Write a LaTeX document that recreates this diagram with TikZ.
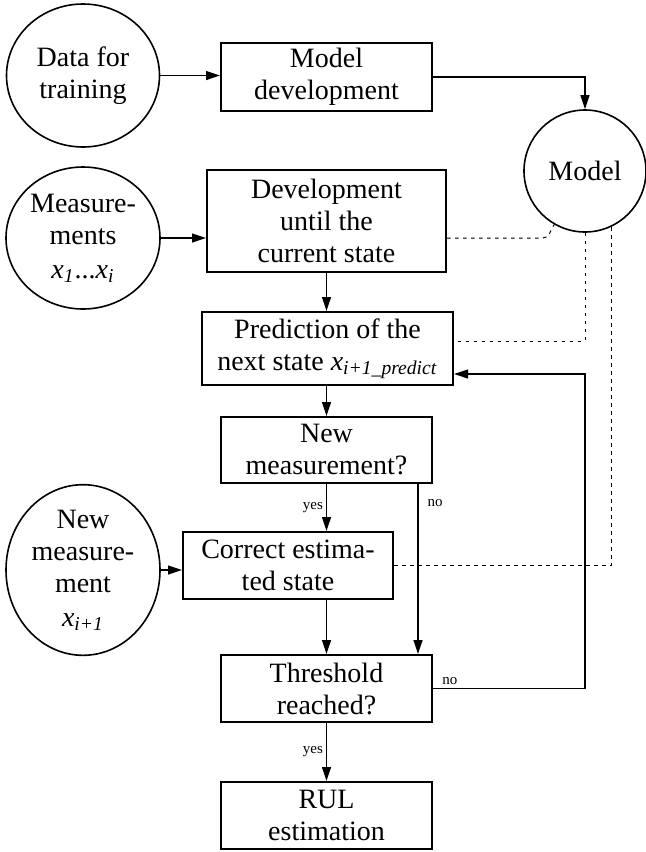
\documentclass[tikz,border=0pt]{standalone}
\usepackage{fontspec}
\setmainfont{Liberation Serif}
\usetikzlibrary{arrows.meta,shapes.geometric}
\tikzset{
  box/.style={draw,line width=1pt,rectangle,inner sep=0pt,align=center,font=\fontsize{14}{16}\selectfont},
  circ/.style={draw,line width=0.8pt,ellipse,inner sep=0pt,align=center,font=\fontsize{14}{16}\selectfont},
  arr/.style={line width=0.6pt,-{Triangle[length=7pt,width=4.5pt]}},
  dotl/.style={line width=0.5pt,dash pattern=on 1.8pt off 2.2pt},
  lbl/.style={font=\fontsize{7.5}{9}\selectfont,inner sep=1.5pt}
}
\newcommand{\xv}{\textit{x}}
\begin{document}
\begin{tikzpicture}[x=0.5pt,y=-0.5pt]
\useasboundingbox (0,0) rectangle (645,852);
% nodes
\node[circ,minimum width=76.5pt,minimum height=71.5pt] (data) at (83,75.5) {Data for\\training};
\node[box,minimum width=105.5pt,minimum height=34pt] (mdev) at (326.5,77) {Model\\development};
\node[circ,circle,minimum size=61pt] (model) at (585,171) {Model};
\node[circ,minimum width=77pt,minimum height=71pt] (meas) at (83,238) {Measure-\\ments\\[1pt]\xv\textsubscript{\textit{1}}...\xv\textsubscript{\textit{i}}};
\node[box,minimum width=119.5pt,minimum height=51pt] (dev) at (326.5,221) {Development\\until the\\current state};
\node[box,minimum width=125.5pt,minimum height=36.5pt] (pred) at (327.5,348.5) {Prediction of the\\next state \xv\textsubscript{\textit{i+1\_predict}}};
\node[box,minimum width=105.5pt,minimum height=33pt] (nm) at (326.5,450) {New\\measurement?};
\node[circ,minimum width=77pt,minimum height=71pt] (newm) at (83,570) {New\\measure-\\ment\\[1pt]\xv\textsubscript{\textit{i+1}}};
\node[box,minimum width=105pt,minimum height=33.5pt] (corr) at (288,565.5) {Correct estima-\\ted state};
\node[box,minimum width=105.5pt,minimum height=33.5pt] (thr) at (326.5,688.5) {Threshold\\reached?};
\node[box,minimum width=105.5pt,minimum height=33.5pt] (rul) at (326.5,815.5) {RUL\\estimation};
\coordinate (bend) at (543,238);
\coordinate (fbin) at ([yshift=6pt]pred.south east);
\coordinate (dvout) at ([yshift=-8.5pt]dev.east);
\coordinate (prin) at ([yshift=3.75pt]pred.east);
\coordinate (nmno) at ([xshift=-7.5pt]nm.south east);
\coordinate (thrno) at ([xshift=-7.5pt]thr.north east);
% connectors
\draw[arr] (data.east) -- (data.east -| mdev.west);
\draw[arr] (mdev.east) -- (mdev.east -| model.north) -- (model.north);
\draw[arr] (meas.east) -- (meas.east -| dev.west);
\draw[arr] (dev.south) -- (dev.south |- pred.north);
\draw[arr] (pred.south -| nm.north) -- (nm.north);
\draw[arr] (nm.south) -- (nm.south |- corr.north) node[lbl,midway,left] {yes};
\draw[arr] (nmno) -- (thrno) node[lbl,pos=0.11,right,xshift=3pt] {no};
\draw[arr] (newm.east) -- (newm.east -| corr.west);
\draw[arr] (thr.north |- corr.south) -- (thr.north);
\draw[arr] (thr.south) -- (rul.north) node[lbl,midway,left] {yes};
\draw[arr] (thr.east) -- (thr.east -| model.south) |- (fbin);
\node[lbl,anchor=south west] (nolbl) at ([xshift=3pt]thr.east) {no};
% dotted links
\draw[dotl] (dvout) -- (bend) to[out=0,in=235] (model.240);
\draw[dotl] (model.south) |- (prin);
\draw[dotl] (model.295) |- (corr.east);
\end{tikzpicture}
\end{document}
